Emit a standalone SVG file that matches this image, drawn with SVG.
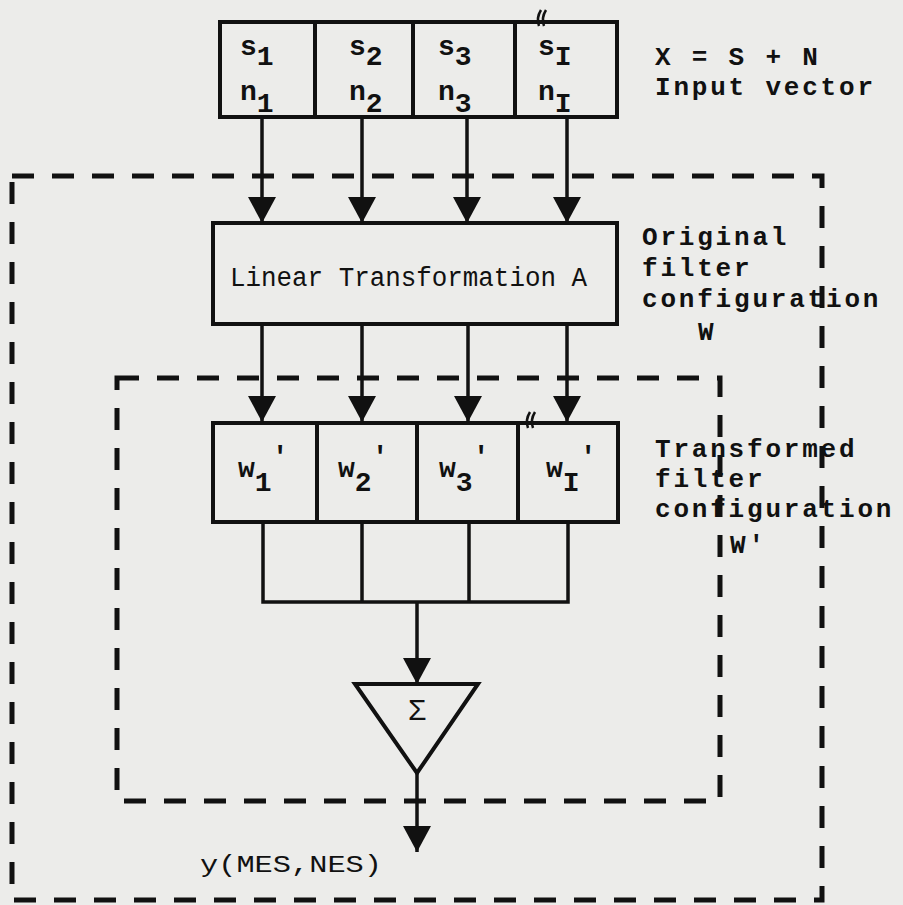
<svg xmlns="http://www.w3.org/2000/svg" width="903" height="905" viewBox="0 0 903 905">
<style>
.bg{fill:#ececea}
.box{fill:none;stroke:#111;stroke-width:4}
.ln{fill:none;stroke:#111;stroke-width:3.5}
.dash{fill:none;stroke:#111;stroke-width:5;stroke-dasharray:22 18}
.t{font-family:"Liberation Mono","DejaVu Sans Mono",monospace;fill:#111}
.lbl{font-size:26px;font-weight:bold;letter-spacing:2.8px}
.cell{font-size:28px;font-weight:bold}
.brk{fill:none;stroke:#111;stroke-width:2.5}
</style>
<defs>
<marker id="ah" viewBox="0 0 26 28" refX="26" refY="14" markerWidth="26" markerHeight="28" markerUnits="userSpaceOnUse" orient="auto">
<path d="M0,0 L26,14 L0,28 Z" fill="#111"/>
</marker>
</defs>
<rect class="bg" x="0" y="0" width="903" height="905"/>

<g id="outer-box">
<path class="dash" d="M12,176 H822 V900 H12 Z"/>
</g>
<g id="inner-box">
<path class="dash" d="M117,378 H720 V801 H117 Z"/>
</g>

<g id="input-vector">
<rect class="box" x="220" y="22" width="397" height="95"/>
<line class="box" x1="315" y1="22" x2="315" y2="117"/>
<line class="box" x1="413" y1="22" x2="413" y2="117"/>
<line class="box" x1="515" y1="22" x2="515" y2="117"/>
<text class="t cell" x="240" y="55">s<tspan dy="10">1</tspan></text>
<text class="t cell" x="240" y="100">n<tspan dy="12">1</tspan></text>
<text class="t cell" x="349" y="55">s<tspan dy="10">2</tspan></text>
<text class="t cell" x="349" y="100">n<tspan dy="12">2</tspan></text>
<text class="t cell" x="438" y="55">s<tspan dy="10">3</tspan></text>
<text class="t cell" x="438" y="100">n<tspan dy="12">3</tspan></text>
<text class="t cell" x="538" y="55">s<tspan dy="10">I</tspan></text>
<text class="t cell" x="538" y="100">n<tspan dy="12">I</tspan></text>
<path class="brk" d="M541,10 Q536,18 539,26 M546,10 Q541,18 544,26"/>
</g>

<g id="input-label">
<text class="t lbl" x="655" y="65">X = S + N</text>
<text class="t lbl" x="655" y="95">Input vector</text>
</g>

<g id="linear-transformation">
<rect class="box" x="213" y="223" width="404" height="101"/>
<text class="t" x="230" y="286" font-size="27" textLength="357" lengthAdjust="spacingAndGlyphs">Linear Transformation A</text>
</g>

<g id="original-label">
<text class="t lbl" x="642" y="245">Original</text>
<text class="t lbl" x="642" y="276">filter</text>
<text class="t lbl" x="642" y="307">configuration</text>
<text class="t lbl" x="698" y="340">W</text>
</g>

<g id="weights">
<rect class="box" x="213" y="423" width="405" height="99"/>
<line class="box" x1="317" y1="423" x2="317" y2="522"/>
<line class="box" x1="417" y1="423" x2="417" y2="522"/>
<line class="box" x1="518" y1="423" x2="518" y2="522"/>
<text class="t cell" x="238" y="477">w<tspan dy="14">1</tspan><tspan dy="-26">'</tspan></text>
<text class="t cell" x="338" y="477">w<tspan dy="14">2</tspan><tspan dy="-26">'</tspan></text>
<text class="t cell" x="439" y="477">w<tspan dy="14">3</tspan><tspan dy="-26">'</tspan></text>
<text class="t cell" x="546" y="477">w<tspan dy="14">I</tspan><tspan dy="-26">'</tspan></text>
<path class="brk" d="M530,412 Q525,420 528,428 M535,412 Q530,420 533,428"/>
</g>

<g id="transformed-label">
<text class="t lbl" x="655" y="457">Transformed</text>
<text class="t lbl" x="655" y="487">filter</text>
<text class="t lbl" x="655" y="517">configuration</text>
<text class="t lbl" x="730" y="553">W'</text>
</g>

<g id="summer">
<path class="box" d="M355,684 L478,684 L417,773 Z"/>
<text class="t" x="417" y="720" font-size="30" text-anchor="middle">Σ</text>
</g>

<g id="output-label">
<text class="t" x="200" y="872" font-size="23" textLength="182" lengthAdjust="spacingAndGlyphs">y(MES,NES)</text>
</g>

<g id="connectors">
<line class="ln" x1="262" y1="117" x2="262" y2="223" marker-end="url(#ah)"/>
<line class="ln" x1="362" y1="117" x2="362" y2="223" marker-end="url(#ah)"/>
<line class="ln" x1="467" y1="117" x2="467" y2="223" marker-end="url(#ah)"/>
<line class="ln" x1="567" y1="117" x2="567" y2="223" marker-end="url(#ah)"/>
<line class="ln" x1="262" y1="324" x2="262" y2="422" marker-end="url(#ah)"/>
<line class="ln" x1="362" y1="324" x2="362" y2="422" marker-end="url(#ah)"/>
<line class="ln" x1="468" y1="324" x2="468" y2="422" marker-end="url(#ah)"/>
<line class="ln" x1="567" y1="324" x2="567" y2="422" marker-end="url(#ah)"/>
<path class="ln" d="M263,522 V602 H568 V522 M362,522 V602 M469,522 V602"/>
<line class="ln" x1="417" y1="602" x2="417" y2="684" marker-end="url(#ah)"/>
<line class="ln" x1="417" y1="773" x2="417" y2="852" marker-end="url(#ah)"/>
</g>
</svg>
